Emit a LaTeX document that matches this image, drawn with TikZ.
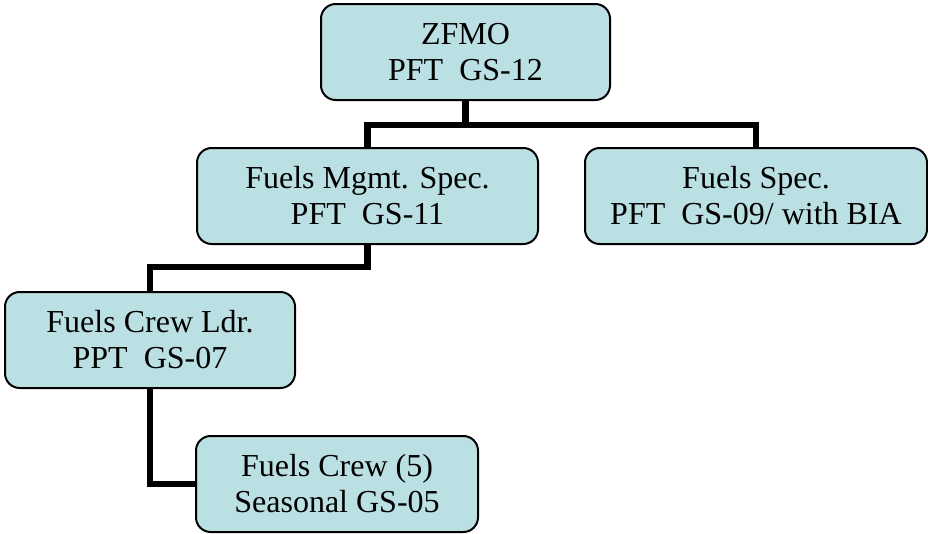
\documentclass[tikz,border=0pt]{standalone}
\usepackage{fontspec}
\setmainfont{Liberation Serif}
\usepackage{tikz}
\usetikzlibrary{positioning,calc}
\definecolor{boxfill}{RGB}{187,224,227}

\begin{document}
\begin{tikzpicture}[x=0.75pt,y=-0.75pt,
    post/.style={draw=black,line width=1.5pt,fill=boxfill,rounded corners=11pt,
      align=center,minimum height=72pt,inner sep=0pt,
      font=\fontsize{24}{27}\selectfont},
    link/.style={line width=4.6pt}]
      \useasboundingbox (0,0) rectangle (928,533);

      \node[post,minimum width=216.75pt] (zfmo) at (465.5,52) {ZFMO\\PFT~~GS-12};
      \node[post,minimum width=255.75pt] (mgmt) at (367.5,196) {Fuels Mgmt. Spec.\\PFT~~GS-11};
      \node[post,minimum width=256.5pt] (spec) at (756,196) {Fuels Spec.\\PFT~~GS-09/ with BIA};
      \node[post,minimum width=217.5pt] (ldr) at (150,340) {Fuels Crew Ldr.\\PPT~~GS-07};
      \node[post,minimum width=211.5pt] (crew) at (337,484) {Fuels Crew (5)\\Seasonal GS-05};

      \coordinate (topsplit) at (zfmo.south |- 0,125);
      \coordinate (midsplit) at (mgmt.south |- 0,267);

      \draw[link] (zfmo.south) -- (topsplit);
      \draw[link] (mgmt.north) |- (topsplit) -| (spec.north);
      \draw[link] (mgmt.south) -- (midsplit) -| (ldr.north);
      \draw[link] (ldr.south) |- (crew.west);

\end{tikzpicture}
\end{document}
